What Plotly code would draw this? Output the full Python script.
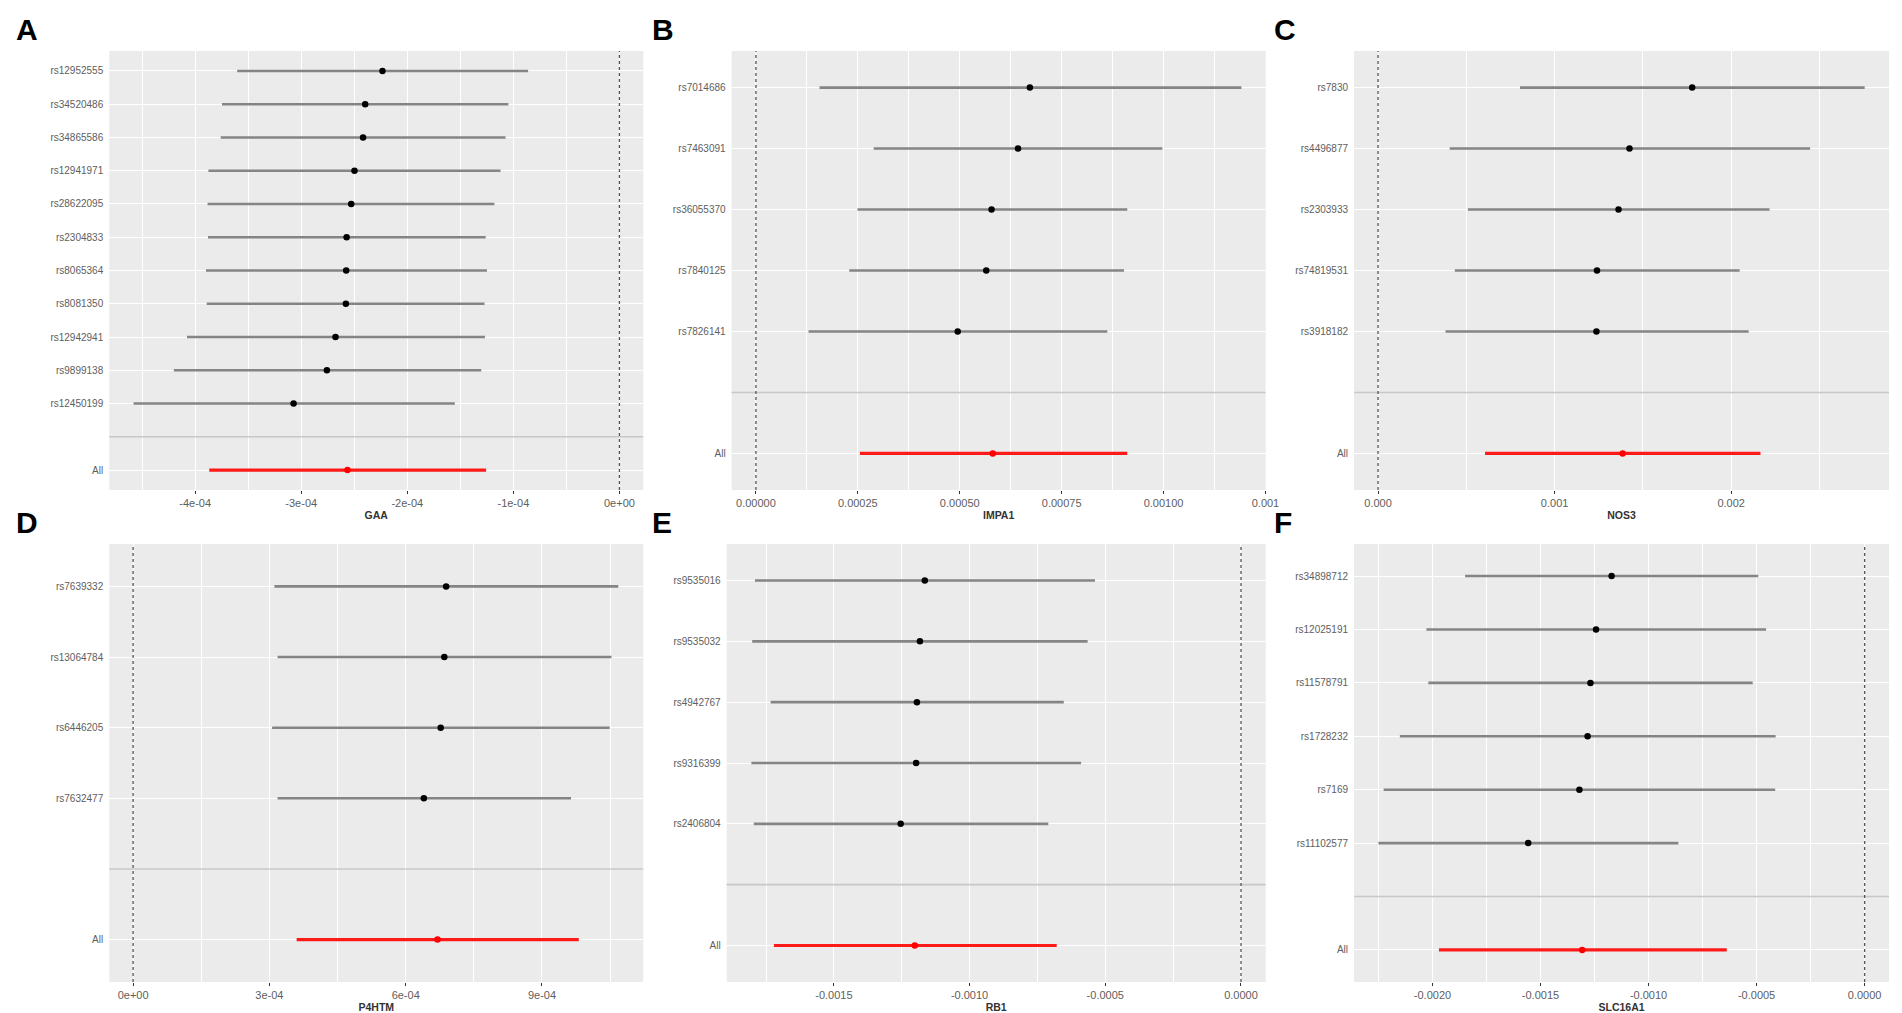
import plotly.graph_objects as go

# Panel A - GAA (rows listed top to bottom)
gaa_snps = ["rs12952555", "rs34520486", "rs34865586", "rs12941971", "rs28622095", "rs2304833",
            "rs8065364", "rs8081350", "rs12942941", "rs9899138", "rs12450199"]
gaa_beta = [-2.234e-4, -2.397e-4, -2.417e-4, -2.498e-4, -2.529e-4, -2.572e-4,
            -2.576e-4, -2.579e-4, -2.677e-4, -2.758e-4, -3.072e-4]
gaa_lo = [-3.604e-4, -3.747e-4, -3.759e-4, -3.875e-4, -3.883e-4, -3.879e-4,
          -3.898e-4, -3.891e-4, -4.077e-4, -4.201e-4, -4.581e-4]
gaa_hi = [-0.861e-4, -1.047e-4, -1.074e-4, -1.121e-4, -1.179e-4, -1.261e-4,
          -1.249e-4, -1.272e-4, -1.268e-4, -1.303e-4, -1.552e-4]
gaa_all = [-2.564e-4, -3.867e-4, -1.257e-4]  # beta, lower, upper

# Panel B - IMPA1
impa1_snps = ["rs7014686", "rs7463091", "rs36055370", "rs7840125", "rs7826141"]
impa1_beta = [0.000672, 0.000643, 0.000578, 0.000565, 0.000495]
impa1_lo = [0.000156, 0.000289, 0.000249, 0.000229, 0.000129]
impa1_hi = [0.001191, 0.000997, 0.000911, 0.000903, 0.000862]
impa1_all = [0.000581, 0.000255, 0.000911]

# Panel C - NOS3
nos3_snps = ["rs7830", "rs4496877", "rs2303933", "rs74819531", "rs3918182"]
nos3_beta = [0.001779, 0.001424, 0.001362, 0.001240, 0.001237]
nos3_lo = [0.000804, 0.000406, 0.000509, 0.000435, 0.000382]
nos3_hi = [0.002756, 0.002447, 0.002217, 0.002048, 0.002099]
nos3_all = [0.001385, 0.000606, 0.002166]

# Panel D - P4HTM
p4htm_snps = ["rs7639332", "rs13064784", "rs6446205", "rs7632477"]
p4htm_beta = [0.000689, 0.000685, 0.000677, 0.000640]
p4htm_lo = [0.000311, 0.000318, 0.000306, 0.000318]
p4htm_hi = [0.001068, 0.001053, 0.001049, 0.000964]
p4htm_all = [0.000670, 0.000360, 0.000981]

# Panel E - RB1
rb1_snps = ["rs9535016", "rs9535032", "rs4942767", "rs9316399", "rs2406804"]
rb1_beta = [-0.001165, -0.001183, -0.001194, -0.001197, -0.001254]
rb1_lo = [-0.001791, -0.001801, -0.001733, -0.001804, -0.001795]
rb1_hi = [-0.000538, -0.000565, -0.000653, -0.000589, -0.000710]
rb1_all = [-0.001202, -0.001721, -0.000679]

# Panel F - SLC16A1
slc_snps = ["rs34898712", "rs12025191", "rs11578791", "rs1728232", "rs7169", "rs11102577"]
slc_beta = [-0.001171, -0.001243, -0.001269, -0.001282, -0.001320, -0.001557]
slc_lo = [-0.001849, -0.002028, -0.002019, -0.002151, -0.002226, -0.002250]
slc_hi = [-0.000492, -0.000456, -0.000518, -0.000412, -0.000414, -0.000862]
slc_all = [-0.001307, -0.001970, -0.000638]

# x tick labels as printed by ggplot
gaa_ticks = [-4e-4, -3e-4, -2e-4, -1e-4, 0]
gaa_ticktext = ["-4e-04", "-3e-04", "-2e-04", "-1e-04", "0e+00"]
impa1_ticks = [0, 0.00025, 0.0005, 0.00075, 0.001, 0.00125]
impa1_ticktext = ["0.00000", "0.00025", "0.00050", "0.00075", "0.00100", "0.001"]
nos3_ticks = [0, 0.001, 0.002]
nos3_ticktext = ["0.000", "0.001", "0.002"]
p4htm_ticks = [0, 3e-4, 6e-4, 9e-4]
p4htm_ticktext = ["0e+00", "3e-04", "6e-04", "9e-04"]
rb1_ticks = [-0.0015, -0.001, -0.0005, 0]
rb1_ticktext = ["-0.0015", "-0.0010", "-0.0005", "0.0000"]
slc_ticks = [-0.002, -0.0015, -0.001, -0.0005, 0]
slc_ticktext = ["-0.0020", "-0.0015", "-0.0010", "-0.0005", "0.0000"]

panels = [
    dict(tag="A", gene="GAA", snps=gaa_snps, beta=gaa_beta, lo=gaa_lo, hi=gaa_hi, all=gaa_all,
         ticks=gaa_ticks, ticktext=gaa_ticktext, xrange=[-4.81e-4, 0.225e-4]),
    dict(tag="B", gene="IMPA1", snps=impa1_snps, beta=impa1_beta, lo=impa1_lo, hi=impa1_hi, all=impa1_all,
         ticks=impa1_ticks, ticktext=impa1_ticktext, xrange=[-0.0000596, 0.0012505]),
    dict(tag="C", gene="NOS3", snps=nos3_snps, beta=nos3_beta, lo=nos3_lo, hi=nos3_hi, all=nos3_all,
         ticks=nos3_ticks, ticktext=nos3_ticktext, xrange=[-0.000136, 0.002894]),
    dict(tag="D", gene="P4HTM", snps=p4htm_snps, beta=p4htm_beta, lo=p4htm_lo, hi=p4htm_hi, all=p4htm_all,
         ticks=p4htm_ticks, ticktext=p4htm_ticktext, xrange=[-0.0000525, 0.001123]),
    dict(tag="E", gene="RB1", snps=rb1_snps, beta=rb1_beta, lo=rb1_lo, hi=rb1_hi, all=rb1_all,
         ticks=rb1_ticks, ticktext=rb1_ticktext, xrange=[-0.001895, 0.000091]),
    dict(tag="F", gene="SLC16A1", snps=slc_snps, beta=slc_beta, lo=slc_lo, hi=slc_hi, all=slc_all,
         ticks=slc_ticks, ticktext=slc_ticktext, xrange=[-0.002363, 0.000113]),
]

W, H = 1902, 1013
# plot boxes in pixels: (left, right, top, bottom)
boxes = [(102, 640, 43, 482), (729, 1267, 43, 482), (1356, 1895, 43, 482),
         (102, 640, 536, 974), (724, 1267, 536, 974), (1356, 1895, 536, 974)]
tag_pos = [(6, 22), (647, 22), (1273, 22), (6, 514), (647, 514), (1273, 514)]

FONT = "Liberation Sans, Arial, sans-serif"
fig = go.Figure()
layout = {}
shapes = []
annotations = []

for i, p in enumerate(panels):
    sfx = "" if i == 0 else str(i + 1)
    xa, ya = "x" + sfx, "y" + sfx
    n = len(p["snps"])
    # ggplot discrete order: "All" at 1, empty level at 2, SNPs above
    pos = [n + 2 - j for j in range(n)]

    fig.add_trace(go.Scatter(
        x=p["beta"], y=pos, mode="markers", xaxis=xa, yaxis=ya, showlegend=False,
        marker=dict(color="black", size=6.5),
        error_x=dict(type="data", symmetric=False,
                     array=[h - b for h, b in zip(p["hi"], p["beta"])],
                     arrayminus=[b - l for b, l in zip(p["beta"], p["lo"])],
                     width=0, thickness=2.6, color="#858585"),
    ))
    b, lo, hi = p["all"]
    fig.add_trace(go.Scatter(
        x=[b], y=[1], mode="markers", xaxis=xa, yaxis=ya, showlegend=False,
        marker=dict(color="#ff0000", size=6.5),
        error_x=dict(type="data", symmetric=False, array=[hi - b], arrayminus=[b - lo],
                     width=0, thickness=3.2, color="#ff1a1a"),
    ))

    l, r, t, btm = boxes[i]
    step = p["ticks"][1] - p["ticks"][0]
    layout["xaxis" + sfx] = dict(
        domain=[l / W, r / W], anchor=ya, range=p["xrange"],
        tickmode="array", tickvals=p["ticks"], ticktext=p["ticktext"],
        showgrid=True, gridcolor="white", gridwidth=1.1,
        minor=dict(tick0=p["ticks"][0], dtick=step / 2, showgrid=True, gridcolor="white", gridwidth=0.5),
        ticks="outside", ticklen=3, tickcolor="#333333", tickwidth=1,
        tickfont=dict(family=FONT, size=11, color="#5e5e5e"),
        zeroline=False, showline=False,
        title=dict(text=p["gene"], standoff=3,
                   font=dict(family=FONT, size=10.5, color="#333333", weight="bold")),
    )
    layout["yaxis" + sfx] = dict(
        domain=[1 - btm / H, 1 - t / H], anchor=xa, range=[0.4, n + 2.6],
        tickmode="array", tickvals=[1] + pos, ticktext=["All"] + p["snps"],
        showgrid=True, gridcolor="white", gridwidth=1.1,
        ticks="outside", ticklen=3, tickcolor="rgba(0,0,0,0)", tickwidth=1,
        tickfont=dict(family=FONT, size=10, color="#5e5e5e"),
        zeroline=False, showline=False,
    )
    # grey separator on the empty level and dotted null line
    shapes.append(dict(type="line", xref=xa + " domain", yref=ya, x0=0, x1=1, y0=2, y1=2,
                       line=dict(color="#c8c8c8", width=1.6), layer="above"))
    shapes.append(dict(type="line", xref=xa, yref=ya + " domain", x0=0, x1=0, y0=0, y1=1,
                       line=dict(color="#555555", width=1.3, dash="dot"), layer="above"))
    tx, ty = tag_pos[i]
    annotations.append(dict(text=f"<b>{p['tag']}</b>", xref="paper", yref="paper",
                            x=tx / W, y=1 - ty / H, xanchor="left", yanchor="middle",
                            showarrow=False, font=dict(family=FONT, size=30, color="black")))

fig.update_layout(
    width=W, height=H, margin=dict(l=0, r=0, t=0, b=0),
    paper_bgcolor="white", plot_bgcolor="#ebebeb",
    shapes=shapes, annotations=annotations, **layout,
)
fig.write_html("out.html")
